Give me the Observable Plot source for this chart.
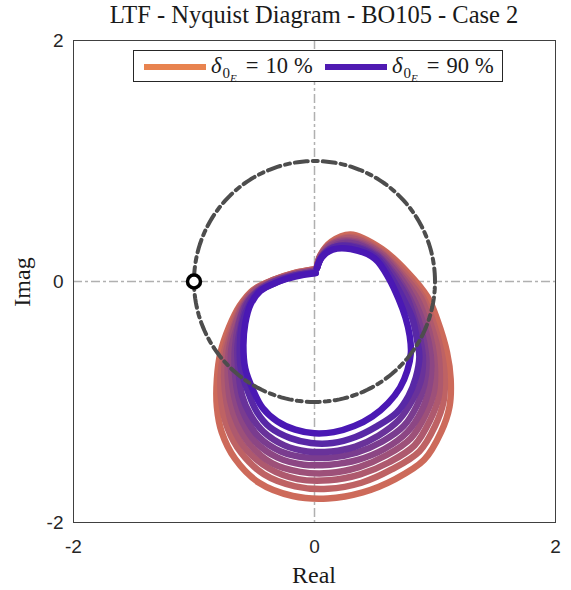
<!DOCTYPE html>
<html>
<head>
<meta charset="utf-8">
<script src="https://cdn.jsdelivr.net/npm/d3@7"></script>
<script src="https://cdn.jsdelivr.net/npm/@observablehq/plot@0.6"></script>
<style>
  body { margin: 0; background: #fff; }
  #wrap { position: relative; width: 571px; height: 590px; overflow: hidden; }
  .serif { font-family: "Liberation Serif", "Times New Roman", serif; color: #1a1a1a; position: absolute; white-space: nowrap; }
  #title { left: 73px; width: 482px; top: 3px; text-align: center; font-size: 24.5px; line-height: 24px; }
  #xlabel { left: 73px; width: 482px; top: 563px; text-align: center; font-size: 24px; line-height: 24px; }
  #ylabel { left: -28px; width: 100px; top: 270px; text-align: center; font-size: 24px; line-height: 24px; transform: rotate(-90deg); transform-origin: 50% 50%; }
  #legend { position: absolute; left: 133px; top: 50px; width: 370px; height: 32px; box-sizing: border-box; border: 1px solid #262626; background: #fff; }
  .swatch { position: absolute; height: 6px; top: 13px; width: 62px; }
  .ltext { position: absolute; top: 0; height: 30px; line-height: 30px; font-size: 22.5px; font-family: "Liberation Serif", "Times New Roman", serif; color: #1a1a1a; white-space: nowrap; }
  .ltext i { font-style: italic; }
  .ltext .s1 { font-size: 15px; position: relative; top: 5px; margin-left: 1px; }
  .ltext .s2 { font-size: 11px; font-style: italic; position: relative; top: 4px; }
  .ltext .eq { margin: 0 7px 0 9px; }
  .ltext .pc { margin-left: 6px; }
</style>
</head>
<body>
<div id="wrap"></div>
<script>
// ---- Data ----
const chartTitle = "LTF - Nyquist Diagram - BO105 - Case 2";
const xLabel = "Real";
const yLabel = "Imag";
const xTicks = [-2, 0, 2];
const yTicks = [-2, 0, 2];
const criticalPoint = [[-1, 0]];
const unitCircleRadius = 1;

const seriesLabels = ["10 %", "20 %", "30 %", "40 %", "50 %", "60 %", "70 %", "80 %", "90 %"];
const legendValues = ["10", "90"];

const delta10 = [[-0.01,0.10],[-0.17,0.07],[-0.35,0.01],[-0.51,-0.07],[-0.62,-0.20],[-0.71,-0.38],[-0.78,-0.59],[-0.81,-0.81],[-0.81,-1.04],[-0.77,-1.25],[-0.66,-1.47],[-0.46,-1.67],[-0.18,-1.78],[0.11,-1.80],[0.40,-1.75],[0.67,-1.64],[0.91,-1.48],[1.05,-1.25],[1.12,-1.04],[1.13,-0.81],[1.10,-0.59],[1.02,-0.32],[0.94,-0.13],[0.77,0.08],[0.56,0.27],[0.30,0.39],[0.14,0.33],[0.05,0.22],[0.02,0.12]];
const delta20 = [[-0.01,0.10],[-0.17,0.07],[-0.35,0.01],[-0.50,-0.07],[-0.61,-0.20],[-0.69,-0.38],[-0.75,-0.58],[-0.78,-0.80],[-0.77,-1.02],[-0.72,-1.22],[-0.61,-1.42],[-0.42,-1.60],[-0.16,-1.70],[0.11,-1.72],[0.39,-1.67],[0.64,-1.56],[0.87,-1.41],[1.00,-1.20],[1.07,-1.00],[1.08,-0.78],[1.05,-0.57],[0.98,-0.32],[0.90,-0.13],[0.75,0.07],[0.55,0.26],[0.30,0.37],[0.14,0.32],[0.05,0.22],[0.02,0.12]];
const delta30 = [[0.00,0.09],[-0.17,0.06],[-0.34,0.01],[-0.49,-0.07],[-0.60,-0.20],[-0.67,-0.37],[-0.73,-0.57],[-0.75,-0.79],[-0.73,-1.00],[-0.68,-1.20],[-0.57,-1.39],[-0.38,-1.55],[-0.14,-1.64],[0.12,-1.65],[0.38,-1.60],[0.62,-1.50],[0.83,-1.36],[0.96,-1.15],[1.03,-0.96],[1.04,-0.75],[1.02,-0.55],[0.95,-0.31],[0.88,-0.13],[0.73,0.06],[0.54,0.25],[0.30,0.36],[0.14,0.31],[0.05,0.21],[0.02,0.12]];
const delta40 = [[0.00,0.09],[-0.17,0.06],[-0.34,0.00],[-0.49,-0.07],[-0.59,-0.20],[-0.66,-0.37],[-0.71,-0.57],[-0.72,-0.78],[-0.70,-0.99],[-0.64,-1.18],[-0.53,-1.36],[-0.35,-1.51],[-0.12,-1.58],[0.12,-1.59],[0.37,-1.54],[0.60,-1.44],[0.80,-1.30],[0.92,-1.11],[0.99,-0.92],[1.00,-0.72],[0.98,-0.54],[0.92,-0.31],[0.85,-0.14],[0.71,0.06],[0.54,0.24],[0.30,0.34],[0.14,0.31],[0.05,0.21],[0.02,0.12]];
const delta50 = [[0.00,0.09],[-0.17,0.06],[-0.34,0.00],[-0.48,-0.08],[-0.58,-0.20],[-0.64,-0.37],[-0.69,-0.56],[-0.69,-0.77],[-0.66,-0.98],[-0.60,-1.16],[-0.49,-1.33],[-0.31,-1.46],[-0.09,-1.52],[0.13,-1.52],[0.36,-1.48],[0.58,-1.39],[0.77,-1.25],[0.89,-1.07],[0.95,-0.89],[0.97,-0.70],[0.95,-0.52],[0.89,-0.31],[0.82,-0.14],[0.70,0.05],[0.53,0.23],[0.30,0.33],[0.14,0.30],[0.06,0.21],[0.02,0.12]];
const delta60 = [[0.00,0.08],[-0.16,0.05],[-0.33,0.00],[-0.47,-0.08],[-0.57,-0.19],[-0.63,-0.36],[-0.66,-0.55],[-0.66,-0.76],[-0.63,-0.96],[-0.57,-1.13],[-0.46,-1.29],[-0.28,-1.41],[-0.07,-1.46],[0.14,-1.46],[0.35,-1.42],[0.56,-1.33],[0.74,-1.20],[0.85,-1.03],[0.91,-0.86],[0.93,-0.68],[0.91,-0.51],[0.86,-0.31],[0.79,-0.14],[0.68,0.04],[0.52,0.22],[0.30,0.32],[0.15,0.29],[0.06,0.21],[0.02,0.11]];
const delta70 = [[0.00,0.08],[-0.16,0.05],[-0.33,0.00],[-0.47,-0.08],[-0.56,-0.19],[-0.61,-0.36],[-0.64,-0.55],[-0.63,-0.75],[-0.60,-0.95],[-0.53,-1.11],[-0.42,-1.25],[-0.25,-1.36],[-0.06,-1.41],[0.14,-1.41],[0.34,-1.37],[0.53,-1.28],[0.70,-1.15],[0.81,-0.99],[0.88,-0.83],[0.90,-0.65],[0.88,-0.49],[0.83,-0.31],[0.77,-0.14],[0.66,0.04],[0.52,0.21],[0.30,0.30],[0.15,0.28],[0.06,0.21],[0.02,0.11]];
const delta80 = [[0.01,0.07],[-0.16,0.05],[-0.32,-0.01],[-0.46,-0.08],[-0.54,-0.19],[-0.60,-0.35],[-0.62,-0.54],[-0.61,-0.73],[-0.55,-0.92],[-0.48,-1.08],[-0.37,-1.21],[-0.20,-1.30],[-0.03,-1.34],[0.15,-1.34],[0.34,-1.29],[0.52,-1.20],[0.68,-1.09],[0.78,-0.95],[0.84,-0.80],[0.87,-0.63],[0.85,-0.48],[0.81,-0.30],[0.74,-0.15],[0.64,0.03],[0.51,0.20],[0.30,0.29],[0.15,0.28],[0.06,0.20],[0.02,0.11]];
const delta90 = [[0.01,0.07],[-0.16,0.04],[-0.32,-0.01],[-0.45,-0.08],[-0.53,-0.19],[-0.575,-0.35],[-0.59,-0.53],[-0.575,-0.72],[-0.51,-0.90],[-0.43,-1.05],[-0.31,-1.16],[-0.16,-1.23],[0.00,-1.26],[0.16,-1.25],[0.33,-1.20],[0.48,-1.12],[0.61,-1.01],[0.71,-0.88],[0.77,-0.74],[0.80,-0.59],[0.79,-0.45],[0.755,-0.30],[0.70,-0.15],[0.62,0.02],[0.50,0.19],[0.30,0.27],[0.15,0.265],[0.06,0.20],[0.02,0.11]];

// ---- Styles ----
const curveColors = ["#CD6A5A", "#BE6264", "#AE596E", "#9D5079", "#8C4684", "#7A3C8F", "#69329A", "#5828A6", "#4A18B4"];
const legendColors = ["#E8834F", "#4F1AB2"];

const curves = [delta10, delta20, delta30, delta40, delta50, delta60, delta70, delta80, delta90];
const rowsFor = (pts, label) => pts.map(([x, y], i) => ({x, y, i, label}));

const circlePts = d3.range(0, 361, 2).map(a => ({
  x: unitCircleRadius * Math.cos(a * Math.PI / 180),
  y: unitCircleRadius * Math.sin(a * Math.PI / 180)
}));

const marks = [
  Plot.ruleX([0], {stroke: "#b0b0b0", strokeWidth: 1.5, strokeDasharray: "9,3,3,3"}),
  Plot.ruleY([0], {stroke: "#b0b0b0", strokeWidth: 1.5, strokeDasharray: "9,3,3,3"})
];
curves.forEach((pts, k) => {
  marks.push(Plot.line(rowsFor(pts, seriesLabels[k]), {
    x: "x", y: "y", stroke: curveColors[k], strokeWidth: 6.5,
    curve: "catmull-rom", strokeLinejoin: "round", strokeLinecap: "round"
  }));
});
marks.push(
  Plot.line(circlePts, {x: "x", y: "y", stroke: "#4d4d4d", strokeWidth: 4, strokeDasharray: "13,5,5,5"}),
  Plot.dot(criticalPoint, {x: d => d[0], y: d => d[1], r: 6.5, stroke: "#000", strokeWidth: 3.5, fill: "#fff"}),
  Plot.frame({stroke: "#404040", strokeWidth: 1}),
  Plot.axisX({ticks: xTicks, tickSize: 0, tickPadding: 17, label: null, tickFormat: d => String(d)}),
  Plot.axisY({ticks: yTicks, tickSize: 0, tickPadding: 10, label: null, tickFormat: d => String(d)})
);

const chart = Plot.plot({
  width: 571,
  height: 590,
  marginLeft: 73,
  marginRight: 16,
  marginTop: 40,
  marginBottom: 68,
  x: {domain: [-2, 2]},
  y: {domain: [-2, 2]},
  style: {fontFamily: "'Liberation Sans', Arial, sans-serif", fontSize: "19px", color: "#262626", background: "#fff"},
  marks
});

const wrap = document.getElementById("wrap");
wrap.appendChild(chart);

function addDiv(id, cls, text) {
  const d = document.createElement("div");
  d.id = id; d.className = cls; d.textContent = text;
  wrap.appendChild(d);
  return d;
}
addDiv("title", "serif", chartTitle);
addDiv("xlabel", "serif", xLabel);
addDiv("ylabel", "serif", yLabel);

// Legend (inside the axes, as in the reference)
const legend = document.createElement("div");
legend.id = "legend";
const swatchLeft = [10, 191];
const textLeft = [77, 258];
legendValues.forEach((v, k) => {
  const sw = document.createElement("div");
  sw.className = "swatch";
  sw.style.left = swatchLeft[k] + "px";
  sw.style.background = legendColors[k];
  legend.appendChild(sw);
  const t = document.createElement("div");
  t.className = "ltext";
  t.style.left = textLeft[k] + "px";
  t.innerHTML = '<i>δ</i><span class="s1">0<span class="s2">E</span></span><span class="eq">=</span>' + v + '<span class="pc">%</span>';
  legend.appendChild(t);
});
wrap.appendChild(legend);
</script>
</body>
</html>
